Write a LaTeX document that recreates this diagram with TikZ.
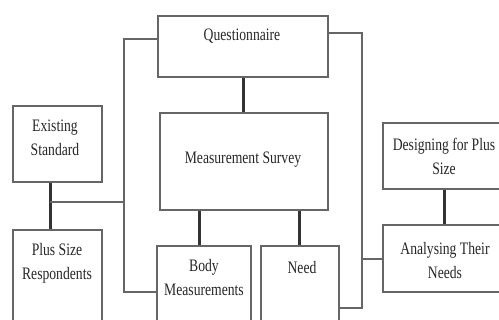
\documentclass[tikz,border=0pt]{standalone}
\usepackage{fontspec}
\setmainfont{Liberation Serif}[FakeStretch=0.78]
\usetikzlibrary{positioning}

\begin{document}
\begin{tikzpicture}[x=1pt, y=-1pt,
    box/.style={draw=black!60, line width=1.3pt, inner sep=0pt},
    lbl/.style={align=center, text=black!85, font=\fontsize{17.5}{24}\selectfont},
    link/.style={draw=black!80, line width=3pt},
    bus/.style={draw=black!60, line width=1.3pt}]
    \useasboundingbox (0,0) rectangle (499,320);
    \clip (0,0) rectangle (499,320);
    % boxes
    \node[box, minimum width=170pt, minimum height=61pt] (quest) at (243,46.5) {};
    \node[box, minimum width=89pt, minimum height=76pt] (exist) at (57.5,144) {};
    \node[box, minimum width=89pt, minimum height=105pt] (plus) at (57.5,282.5) {};
    \node[box, minimum width=168pt, minimum height=97pt] (survey) at (244,161.5) {};
    \node[box, minimum width=94pt, minimum height=89pt] (body) at (204,290.5) {};
    \node[box, minimum width=78pt, minimum height=89pt] (need) at (300,290.5) {};
    \node[box, minimum width=125pt, minimum height=66pt] (design) at (445.5,156) {};
    \node[box, minimum width=125pt, minimum height=67pt] (analyse) at (445.5,258.5) {};
    % texts
    \node[lbl] (questtxt) at (242,36) {Questionnaire};
    \node[lbl] (existtxt) at (55,138) {Existing\\Standard};
    \node[lbl] (plustxt) at (57,263.5) {Plus Size\\Respondents};
    \node[lbl] (surveytxt) at (243,160) {Measurement Survey};
    \node[lbl] (bodytxt) at (204,277.5) {Body\\Measurements};
    \node[lbl] (needtxt) at (302,268) {Need};
    \node[lbl] (designtxt) at (444,156.5) {Designing for Plus\\Size};
    \node[lbl] (analysetxt) at (445,261) {Analysing Their\\Needs};
    % thick links
    \draw[link] (quest.south) -- (survey.north -| quest.south);
    \draw[link] ([xshift=-45pt]survey.south) -- ([xshift=-5pt]body.north);
    \draw[link] ([xshift=55pt]survey.south) -- ([xshift=-1pt]need.north);
    \draw[link] ([xshift=-7.5pt]exist.south) -- ([xshift=-7.5pt]plus.north);
    \draw[link] ([xshift=-1.5pt]design.south) -- ([xshift=-1.5pt]analyse.north);
    % brackets
    \coordinate (lbus) at (124,202);
    \coordinate (rbus) at (362,259);
    \draw[bus] ([yshift=7.5pt]quest.west) -| (lbus) |- ([yshift=-1.5pt]body.west);
    \draw[bus] (lbus) -- ([xshift=-7.5pt]lbus -| exist);
    \draw[bus] ([yshift=13.5pt]quest.east) -| (rbus) |- ([yshift=-17.5pt]need.east);
    \draw[bus] (rbus) -- (rbus -| analyse.west);
\end{tikzpicture}
\end{document}
